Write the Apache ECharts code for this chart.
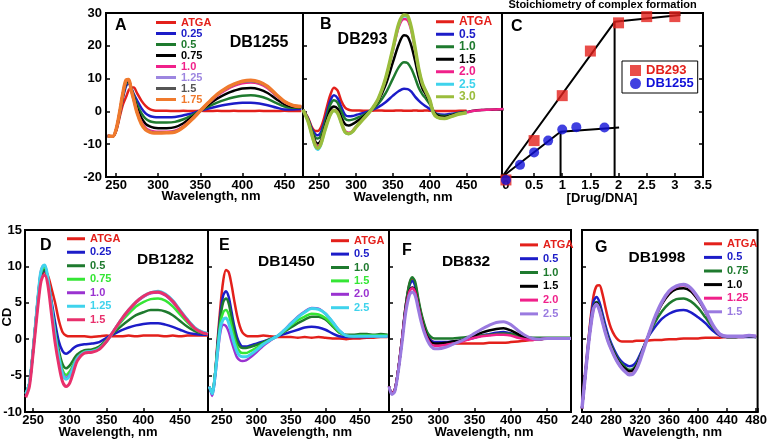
<!DOCTYPE html>
<html><head><meta charset="utf-8">
<script src="https://cdn.jsdelivr.net/npm/echarts/dist/echarts.min.js"></script>
<style>html,body{margin:0;padding:0;background:#fff}#c{width:770px;height:442px}</style>
</head><body><div id="c"></div>
<script>
const FONT = '"Liberation Sans", Arial, Helvetica, sans-serif';

// ---------- Panel A : DB1255 ----------
const wlA = [240,246,250,254,258,262,265,268,271,275,280,285,290,295,300,310,320,330,340,350,360,370,380,390,400,410,420,430,440,450,460,470];
const aATGA = [-7.5,-7.6,-6.0,-2.0,2.0,4.5,6.5,7.3,7.3,5.5,3.3,1.7,0.7,0.3,0.2,0.2,0.1,0.2,0.1,0.2,0.1,0.2,0.1,0.2,0.1,0.1,0.2,0.1,0.1,0.2,0.1,0.1];
const a025 = [-7.5,-7.6,-5.8,-1.2,4.0,7.8,8.5,7.2,5.3,3.3,1.0,-0.6,-1.4,-1.7,-1.8,-1.8,-1.7,-1.2,-0.6,0.2,0.9,1.5,2.0,2.4,2.6,2.6,2.4,1.9,1.2,0.6,0.6,0.7];
const a05 = [-7.5,-7.6,-5.7,-1.0,4.5,8.5,9.0,7.0,4.8,2.0,-0.5,-2.2,-3.0,-3.3,-3.4,-3.4,-3.2,-2.4,-1.2,0.2,1.5,2.7,3.6,4.3,4.8,4.9,4.6,3.8,2.6,1.5,1.1,1.1];
const a075 = [-7.5,-7.6,-5.6,-0.8,5.0,9.0,9.3,6.8,4.2,0.8,-2.0,-3.8,-4.6,-5.0,-5.1,-5.1,-4.8,-3.6,-1.8,0.2,2.1,3.9,5.3,6.3,7.0,7.1,6.7,5.6,3.8,2.2,1.4,1.3];
const a10 = [-7.5,-7.6,-5.5,-0.6,5.3,9.3,9.5,6.6,3.8,0.0,-3.2,-5.0,-5.8,-6.1,-6.2,-6.2,-5.9,-4.5,-2.3,0.2,2.6,4.8,6.5,7.8,8.6,8.8,8.4,7.1,4.8,2.8,1.7,1.4];
const a125 = [-7.5,-7.6,-5.5,-0.5,5.4,9.4,9.6,6.5,3.6,-0.3,-3.6,-5.4,-6.1,-6.4,-6.5,-6.4,-6.2,-4.7,-2.4,0.2,2.7,5.0,6.8,8.1,9.0,9.2,8.7,7.4,5.0,2.9,1.8,1.4];
const a15 = [-7.5,-7.6,-5.5,-0.5,5.4,9.5,9.6,6.5,3.5,-0.4,-3.7,-5.5,-6.2,-6.5,-6.5,-6.4,-6.2,-4.7,-2.4,0.2,2.7,5.1,6.9,8.2,9.1,9.3,8.8,7.5,5.1,3.0,1.8,1.5];
const a175 = [-7.5,-7.6,-5.5,-0.5,5.5,9.6,9.7,6.5,3.5,-0.5,-3.8,-5.6,-6.3,-6.6,-6.6,-6.5,-6.3,-4.8,-2.5,0.2,2.8,5.2,7.0,8.3,9.2,9.5,9.0,7.6,5.2,3.0,1.8,1.5];
const labelsA = ['ATGA','0.25','0.5','0.75','1.0','1.25','1.5','1.75'];

// ---------- Panel B : DB293 ----------
const wlB = [228,235,240,245,248,252,256,260,265,270,275,280,285,290,295,300,310,320,330,340,350,358,365,370,375,380,385,390,395,400,405,410,420,430,440,450,460,470,480,490,500];
const bATGA = [0.5,-2,-4.8,-6,-6,-5,-2.5,1,5,7.2,6.3,3.2,1.2,0.5,0.3,0.3,0.2,0.2,0.3,0.2,0.2,0.3,0.2,0.2,0.2,0.3,0.2,0.2,0.3,0.2,0.2,0.1,0.1,0.1,0.2,0.2,null,null,null,null,null];
const b05 = [0.5,-2.3,-5.3,-7,-7.3,-6.5,-4,-0.8,3.2,4.9,4,1.3,-1,-1.5,-1.4,-1.1,-0.5,0.3,1.3,2.8,4.8,6.2,6.9,6.8,6.0,4.5,3.3,2.3,1.5,0.7,-0.2,-0.8,-1.0,-0.7,-0.4,-0.2,null,null,null,null,null];
const b10 = [0.5,-2.5,-5.8,-8,-8.3,-7.5,-5,-1.8,2,3.4,2.6,0,-2.2,-2.7,-2.5,-2.1,-1.1,0.3,2.3,5.5,10,13.5,15,14.7,13,10.3,7.2,5.2,3.8,2.2,0,-1,-1.4,-1,-0.5,-0.2,null,null,null,null,null];
const b15 = [0.5,-2.8,-6.5,-9.3,-9.8,-9,-6.3,-3,0.5,1.5,0.8,-1.8,-3.9,-4.3,-3.9,-3.2,-1.6,0.3,3.2,8,15,20.5,23.2,22.8,20,15.5,10.5,7,5,3,0,-1.2,-1.7,-1.2,-0.6,-0.2,0.2,0.4,0.5,0.6,0.6];
const b20 = [0.5,-3,-6.8,-10,-10.6,-9.7,-6.8,-3.8,-0.8,0.4,-0.3,-3.3,-6,-6.5,-6,-4.6,-2.2,0.3,3.7,9.8,18.6,25.8,28.2,27.8,24.6,18.9,12.6,8.3,5.8,3.4,-0.4,-1.7,-2.1,-1.4,-0.7,-0.3,0.2,0.4,0.5,0.6,0.7];
const b25 = [0.5,-3.2,-7.3,-11,-11.7,-10.5,-7.3,-4.2,-1.1,0.2,-0.6,-3.6,-6.4,-6.9,-6.3,-4.8,-2.3,0.3,3.8,10,19,26.4,29,28.8,25.3,19.4,12.9,8.5,6,3.5,-0.5,-1.8,-2.2,-1.5,-0.8,-0.4,null,null,null,null,null];
const b30 = [0.5,-3.1,-7.1,-10.6,-11.2,-10.1,-7.1,-4.1,-1.0,0.3,-0.5,-3.5,-6.3,-6.8,-6.2,-4.8,-2.3,0.3,3.8,10,19.2,26.8,29.4,29.1,25.5,19.5,13,8.5,6,3.5,-0.5,-1.8,-2.2,-1.5,-0.8,-0.4,null,null,null,null,null];
const labelsB = ['ATGA','0.5','1.0','1.5','2.0','2.5','3.0'];

// ---------- Panel C : stoichiometry ----------
const ratio293 = [0,0.5,1,1.5,2,2.5,3];
const signal293 = [-0.9,11.1,24.8,38.4,47.0,48.9,48.9];
const ratio1255 = [0,0.25,0.5,0.75,1,1.25,1.75];
const signal1255 = [-0.9,3.7,7.5,11.1,14.5,15.2,15.1];
const fit293X = [-0.07,1.93,3.1];
const fit293Y = [0,47.3,49.4];
const drop293X = [1.93,1.93];
const drop293Y = [0,47.3];
const fit1255X = [-0.07,0.97,2.01];
const fit1255Y = [0,13.8,15.1];
const drop1255X = [0.97,0.97];
const drop1255Y = [0,13.8];

// ---------- Panel D : DB1282 ----------
const wlD = [240,245,250,255,260,263,266,270,275,280,285,290,295,300,305,310,320,330,340,350,360,370,380,390,400,410,420,430,440,450,460,470,480,488];
const dATGA = [-7.5,-6,-1.5,3.5,8,9,9.2,8.8,7,5,2.6,1.0,0.5,0.4,0.4,0.4,0.4,0.3,0.4,0.5,0.4,0.4,0.5,0.4,0.5,0.5,0.5,0.4,0.5,0.4,0.5,0.5,0.5,0.5];
const d025 = [-7.5,-6,-1.5,4,8.5,9.3,9.4,8.2,5.3,2.3,-0.3,-1.6,-2.0,-1.7,-1.2,-0.9,-0.7,-0.6,-0.4,0.2,0.7,1.2,1.6,1.9,2.1,2.2,2.2,2.0,1.7,1.3,0.9,0.7,0.6,0.6];
const d05 = [-7.5,-6,-1.5,4,8.6,9.4,9.5,8.1,4.8,1.3,-1.5,-3.4,-4.0,-3.6,-2.8,-2.1,-1.5,-1.4,-1.0,-0.1,0.9,1.8,2.6,3.3,3.7,4.0,4.0,3.8,3.3,2.5,1.7,1.1,0.8,0.7];
const d075 = [-7.5,-6,-1.5,4,8.8,9.7,9.8,8.3,4.6,0.8,-2.1,-4.2,-4.9,-4.4,-3.4,-2.5,-1.7,-1.6,-1.2,-0.2,1.1,2.4,3.5,4.5,5.1,5.5,5.6,5.3,4.5,3.4,2.3,1.4,0.9,0.7];
const d10 = [-7.8,-6.2,-1.6,4,9,10,10.1,8.4,4.5,0.6,-2.4,-4.6,-5.3,-4.8,-3.7,-2.6,-1.8,-1.7,-1.3,-0.3,1.2,2.6,3.9,5.0,5.8,6.3,6.4,6.0,5.1,3.9,2.6,1.5,1.0,0.8];
const d125 = [-7.5,-6,-1.5,4,9,10,10.2,8.5,4.5,0.5,-2.5,-4.8,-5.5,-5.0,-3.8,-2.7,-1.8,-1.7,-1.3,-0.3,1.2,2.7,4.0,5.1,5.9,6.4,6.6,6.2,5.3,4.0,2.7,1.6,1.0,0.8];
const d15 = [-8,-6.5,-2,3,7.5,8.6,8.8,7.5,3.5,-0.5,-3.5,-5.8,-6.5,-6,-4.5,-3,-1.9,-1.8,-1.4,-0.3,1.2,2.7,4.0,5.1,5.9,6.4,6.5,6.1,5.2,3.9,2.6,1.5,0.9,0.7];
const labelsD = ['ATGA','0.25','0.5','0.75','1.0','1.25','1.5'];

// ---------- Panel E : DB1450 ----------
const wlE = [232,236,240,244,248,252,256,260,264,268,272,276,280,285,290,300,310,320,330,340,350,360,370,380,390,400,410,420,430,440,450,460,470,480,490];
const eATGA = [-6.5,-7.5,-5,0,4.5,8,9.5,9.2,7.5,5.3,3.3,1.8,0.9,0.5,0.4,0.4,0.5,0.4,0.3,0.3,0.3,0.2,0.3,0.2,0.3,0.2,0.1,0.1,0,0.1,0.1,0.2,0.2,0.3,0.3];
const e05 = [-6.5,-7.5,-5,-0.5,3.5,6,6.6,5.8,3.8,1.8,0.3,-0.6,-1.0,-1.0,-0.9,-0.6,-0.3,0,0.4,0.7,1.0,1.3,1.6,1.7,1.6,1.3,0.8,0.4,0.3,0.3,0.3,0.3,0.4,0.4,0.4];
const e10 = [-6.5,-7.5,-5,-0.8,3,5.1,5.6,4.9,3,1.1,-0.3,-1.0,-1.2,-1.2,-1.1,-0.8,-0.4,0,0.4,1.0,1.6,2.2,2.7,3.1,3.1,2.7,1.8,0.9,0.6,0.6,0.7,0.7,0.6,0.7,0.6];
const e15 = [-6.5,-7.5,-5,-1.2,2.2,3.7,4.0,3.4,1.8,0.2,-1.0,-1.7,-1.9,-1.9,-1.7,-1.2,-0.6,-0.1,0.4,1.1,1.9,2.6,3.1,3.5,3.4,2.9,2.0,1.0,0.5,0.4,0.5,0.5,0.5,0.5,0.5];
const e20 = [-6.5,-7.8,-5.5,-2,1.0,2.0,1.8,1.0,-0.3,-1.5,-2.5,-2.9,-3.0,-2.9,-2.6,-1.8,-0.9,-0.2,0.4,1.2,2.2,3.1,3.8,4.3,4.2,3.5,2.4,1.2,0.5,0.4,0.4,0.4,0.4,0.4,0.4];
const e25 = [-6.5,-7.5,-5.2,-1.6,1.6,2.7,2.9,2.2,0.8,-0.6,-1.7,-2.3,-2.4,-2.4,-2.2,-1.5,-0.7,-0.1,0.4,1.2,2.1,3.0,3.7,4.2,4.1,3.5,2.4,1.2,0.5,0.4,0.4,0.4,0.4,0.4,0.4];
const labelsE = ['ATGA','0.5','1.0','1.5','2.0','2.5'];

// ---------- Panel F : DB832 ----------
const wlF = [232,236,240,245,250,255,260,264,268,272,276,280,285,290,295,300,310,320,330,340,350,360,370,380,390,400,410,420,430,440,450,460,470,483];
const fATGA = [-6.5,-7.4,-7,-4,0,4.5,7.5,8.3,7.6,5.5,3.6,2.1,0.7,-0.1,-0.5,-0.6,-0.6,-0.6,-0.6,-0.6,-0.6,-0.6,-0.5,-0.5,-0.5,-0.4,-0.3,-0.2,-0.1,0,0.1,0.1,0.1,0.1];
const f05 = [-6.5,-7.4,-7,-4,0,4.5,7.3,8.0,7.3,5.3,3.4,1.9,0.5,-0.2,-0.4,-0.4,-0.4,-0.3,-0.2,0,0.2,0.5,0.7,0.9,1.0,0.8,0.4,0.1,0,0,0.1,0.1,0.1,0.1];
const f10 = [-6.5,-7.4,-7,-4,0,4.6,7.6,8.5,7.9,5.8,3.8,2.3,0.9,0.3,0.1,0.1,0.1,0.1,0.2,0.3,0.4,0.5,0.6,0.7,0.8,0.7,0.5,0.3,0.2,0.2,0.2,0.2,0.2,0.2];
const f15 = [-6.5,-7.4,-7,-4,0,4.2,6.6,7.1,6.6,4.8,3.0,1.6,0.3,-0.4,-0.6,-0.6,-0.5,-0.3,-0.2,0.1,0.5,0.9,1.2,1.4,1.5,1.2,0.7,0.2,0,0,0.1,0.1,0.1,0.1];
const f20 = [-6.5,-7.4,-7,-4,0,4.1,6.5,7.0,6.5,4.7,2.9,1.4,0.1,-0.7,-0.9,-0.9,-0.8,-0.6,-0.4,-0.1,0.2,0.4,0.5,0.6,0.6,0.5,0.2,0,-0.1,0,0.1,0.1,0.1,0.1];
const f25 = [-6.5,-7.6,-7.2,-4.3,-0.5,3.6,6,6.5,6.0,4.3,2.5,1.1,-0.2,-1.0,-1.3,-1.3,-1.1,-0.7,-0.3,0.2,0.8,1.4,1.9,2.3,2.4,2.0,1.2,0.5,0.1,0,0.1,0.1,0.1,0.1];
const labelsF = ['ATGA','0.5','1.0','1.5','2.0','2.5'];

// ---------- Panel G : DB1998 ----------
const wlG = [240,244,248,252,256,260,264,268,272,276,280,285,290,295,300,305,310,315,320,325,330,340,350,360,370,380,390,400,410,420,430,440,450,460,470,480];
const gATGA = [-9.5,-5,-1,3,6,7.3,7.4,6.3,4.5,2.8,1.5,0.5,-0.1,-0.3,-0.3,-0.3,-0.3,-0.2,-0.2,-0.2,-0.2,-0.1,-0.1,0,0,0.1,0.1,0.1,0.2,0.2,0.2,0.3,0.3,0.3,0.4,0.4];
const g05 = [-9.5,-5.3,-1.2,2.5,5.2,5.8,5.1,3.6,2.0,0.6,-0.5,-1.6,-2.5,-3.1,-3.5,-3.7,-3.6,-3.1,-2.1,-1.0,0.1,1.6,2.8,3.5,3.9,4.0,3.7,3.0,2.2,1.2,0.5,0.3,0.3,0.3,0.3,0.3];
const g075 = [-9.5,-5.5,-1.5,2,4.5,5.1,4.5,3,1.5,0.2,-0.8,-1.9,-2.8,-3.4,-3.9,-4.2,-4.1,-3.5,-2.4,-1.1,0.1,2.2,3.8,4.9,5.5,5.6,5.2,4.3,3.0,1.6,0.6,0.3,0.3,0.4,0.4,0.3];
const g10 = [-9.5,-5.5,-1.5,1.9,4.4,5.0,4.3,2.8,1.3,0,-1.0,-2.1,-3.0,-3.7,-4.1,-4.4,-4.3,-3.7,-2.6,-1.2,0.1,2.7,4.8,6.2,6.9,7.0,6.6,5.4,3.8,1.9,0.6,0.3,0.3,0.4,0.4,0.3];
const g125 = [-9.5,-5.5,-1.5,1.8,4.2,4.8,4.0,2.5,1.0,-0.3,-1.3,-2.4,-3.3,-4.0,-4.5,-4.8,-4.7,-4.0,-2.8,-1.3,0.1,2.8,5.0,6.5,7.2,7.4,6.9,5.6,3.9,1.9,0.6,0.4,0.4,0.4,0.5,0.4];
const g15 = [-9.5,-5.5,-1.5,1.8,4.2,4.8,4.0,2.5,1.0,-0.3,-1.3,-2.4,-3.3,-4.0,-4.5,-4.9,-4.8,-4.1,-2.9,-1.4,0.1,2.9,5.1,6.6,7.3,7.5,7.0,5.7,4.0,2.0,0.7,0.4,0.4,0.4,0.5,0.4];
const labelsG = ['ATGA','0.5','0.75','1.0','1.25','1.5'];

// ---------- colours ----------
const RED='#e3201b', BLUE='#1c1cc8', DGREEN='#1e7a2e', BLACK='#000000', PINK='#f0208a',
      LAV='#9d86e0', GRAY='#555555', ORANGE='#f07a2d', CYAN='#3fd3ec', OLIVE='#9bbd3c',
      LGREEN='#35e635', PURPLE='#9a32d0', CRIMSON='#e8306c', LAV2='#9a7ae0';

const chart = echarts.init(document.getElementById('c'), null, {renderer:'canvas'});

const grids = [
  {left:106, top:13, width:197, height:164},
  {left:303, top:13, width:199, height:164},
  {left:502, top:13, width:201, height:164},
  {left:25, top:230, width:183, height:182},
  {left:208, top:230, width:181, height:182},
  {left:389, top:230, width:182, height:182},
  {left:582, top:230, width:179, height:182}
].map(g => Object.assign({show:true, borderColor:'#000', borderWidth:2, backgroundColor:'#fff', containLabel:false}, g));

function onStep(v, step){ const r = v/step; return Math.abs(r - Math.round(r)) < 1e-6; }
function xAx(gi, min, max, step, split, interval){
  const ax = {type:'value', gridIndex:gi, min, max, splitNumber:split,
    splitLine:{show:false},
    axisLine:{show:true, onZero:false, lineStyle:{color:'#000', width:2}},
    axisTick:{show:true, inside:true, length:4, lineStyle:{color:'#000', width:1.5}},
    axisLabel:{show:true, margin:2, color:'#000', fontFamily:FONT, fontWeight:'bold', fontSize:13,
      formatter: v => onStep(v, step) ? String(+v.toFixed(2)) : ''}};
  if (interval) ax.interval = interval;
  return ax;
}
function yAx(gi, min, max, interval, showLabel, margin){
  return {type:'value', gridIndex:gi, min, max, interval,
    splitLine:{show:false},
    axisLine:{show:true, onZero:false, lineStyle:{color:'#000', width:2}},
    axisTick:{show:true, inside:true, length:4, lineStyle:{color:'#000', width:1.5}},
    axisLabel:{show:showLabel, margin:margin||4, color:'#000', fontFamily:FONT, fontWeight:'bold', fontSize:13}};
}

const xAxes = [
  xAx(0, 238, 472, 50, 5),
  xAx(1, 228, 498, 50, 5),
  xAx(2, -0.07, 3.5, 0.5, 7),
  xAx(3, 239, 488, 50, 5),
  xAx(4, 230, 492, 50, 5),
  xAx(5, 232, 483, 50, 5),
  xAx(6, 240, 482, 40, 6, 40)
];
const yAxes = [
  yAx(0, -20, 30, 10, true, 4),
  yAx(1, -20, 30, 10, false),
  Object.assign(yAx(2, 0, 50, 10, false), {position:'right'}),
  yAx(3, -10, 15, 5, true, 3),
  yAx(4, -10, 15, 5, false),
  yAx(5, -10, 15, 5, false),
  yAx(6, -10, 15, 5, false)
];

function pairs(xs, ys){ const out=[]; xs.forEach((x,i)=>{ if(ys[i]!=null) out.push([x, ys[i]]); }); return out; }
function line(gi, name, xs, ys, color, width){
  return {type:'line', name, xAxisIndex:gi, yAxisIndex:gi, data:pairs(xs, ys),
    showSymbol:false, symbol:'none', smooth:0.3, animation:false, silent:true,
    lineStyle:{color, width}, itemStyle:{color}};
}
const series = [];
const legends = [];
function panel(gi, prefix, xs, list, labels, colors, widths, lg){
  list.forEach((ys,i)=> series.push(line(gi, prefix+'_'+labels[i], xs, ys, colors[i], widths[i])));
  legends.push({left:lg.left, top:lg.top, orient:'vertical', itemGap:0, itemWidth:lg.iw, itemHeight:3,
    icon:'rect', selectedMode:false, padding:0,
    formatter: n => n.slice(prefix.length+1),
    textStyle:{fontFamily:FONT, fontWeight:'bold', fontSize:lg.fs, lineHeight:lg.lh},
    data: labels.map((l,i)=>({name:prefix+'_'+l, textStyle:{color:colors[i]}}))});
}

panel(0,'A', wlA, [aATGA,a025,a05,a075,a10,a125,a15,a175], labelsA,
  [RED,BLUE,DGREEN,BLACK,PINK,LAV,GRAY,ORANGE], [2.5,2.5,2.5,2.5,2.5,2.5,2.5,3.5],
  {left:156, top:17, iw:20, fs:11, lh:11});
panel(1,'B', wlB, [bATGA,b05,b10,b15,b20,b25,b30], labelsB,
  [RED,BLUE,DGREEN,BLACK,PINK,CYAN,OLIVE], [2.5,2.5,2.5,2.5,2.5,2.5,3.5],
  {left:436, top:15.5, iw:18, fs:12, lh:12.5});
panel(3,'D', wlD, [dATGA,d025,d05,d075,d10,d125,d15], labelsD,
  [RED,BLUE,DGREEN,LGREEN,PURPLE,CYAN,CRIMSON], [2.5,2.5,2.5,2.5,2.5,3,3],
  {left:67, top:232, iw:18, fs:11, lh:13.5});
panel(4,'E', wlE, [eATGA,e05,e10,e15,e20,e25], labelsE,
  [RED,BLUE,DGREEN,LGREEN,PURPLE,CYAN], [2.5,2.5,2.5,2.5,2.5,3],
  {left:331, top:234, iw:18, fs:11, lh:13.4});
panel(5,'F', wlF, [fATGA,f05,f10,f15,f20,f25], labelsF,
  [RED,BLUE,DGREEN,BLACK,PINK,LAV2], [2.5,2.5,2.5,2.5,2.5,3],
  {left:520, top:238, iw:18, fs:11, lh:13.8});
panel(6,'G', wlG, [gATGA,g05,g075,g10,g125,g15], labelsG,
  [RED,BLUE,DGREEN,BLACK,PINK,LAV2], [2.5,2.5,2.5,2.5,2.5,3.5],
  {left:704, top:237, iw:18, fs:11, lh:13.6});

// Panel C
const fitStyle = {type:'line', xAxisIndex:2, yAxisIndex:2, showSymbol:false, symbol:'none', animation:false, silent:true, z:2,
  lineStyle:{color:'#000', width:2}, itemStyle:{color:'#000'}};
series.push(Object.assign({}, fitStyle, {name:'fit293', data:pairs(fit293X, fit293Y)}));
series.push(Object.assign({}, fitStyle, {name:'drop293', data:pairs(drop293X, drop293Y)}));
series.push(Object.assign({}, fitStyle, {name:'fit1255', data:pairs(fit1255X, fit1255Y)}));
series.push(Object.assign({}, fitStyle, {name:'drop1255', data:pairs(drop1255X, drop1255Y)}));
series.push({type:'scatter', name:'DB293', xAxisIndex:2, yAxisIndex:2, symbol:'rect', symbolSize:11, clip:false, z:3,
  itemStyle:{color:RED}, data:pairs(ratio293, signal293), animation:false});
series.push({type:'scatter', name:'DB1255', xAxisIndex:2, yAxisIndex:2, symbol:'circle', symbolSize:10, clip:false, z:3,
  itemStyle:{color:'#1010d8'}, data:pairs(ratio1255, signal1255), animation:false});
legends.push({left:622, top:61, orient:'vertical', padding:[3,4,3,8], borderColor:'#000', borderWidth:1,
  itemGap:0, itemWidth:11, itemHeight:11, selectedMode:false,
  textStyle:{fontFamily:FONT, fontWeight:'bold', fontSize:13, lineHeight:13},
  data:[{name:'DB293', icon:'rect', textStyle:{color:RED}}, {name:'DB1255', icon:'circle', textStyle:{color:'#1010d8'}}]});

function txt(text, x, y, fs, align, rot){
  const el = {type:'text', x, y, z:100, silent:true,
    style:{text, fill:'#000', font:'bold '+fs+'px '+FONT, fontWeight:'bold', fontSize:fs, fontFamily:FONT,
      textAlign:align||'center', textVerticalAlign:'middle', align:align||'center', verticalAlign:'middle'}};
  if (rot) el.rotation = rot;
  return el;
}
const graphics = [
  txt('A',115,26,16,'left'), txt('DB1255',259,43,16),
  txt('B',320,25,16,'left'), txt('DB293',362.5,40,16),
  txt('C',511,27,16,'left'), txt('Stoichiometry of complex formation',602.5,5,11),
  txt('D',40,246,16,'left'), txt('DB1282',165.5,260,15.5),
  txt('E',219,246,16,'left'), txt('DB1450',286.5,262,15.5),
  txt('F',402,250.5,16,'left'), txt('DB832',466,262,15.5),
  txt('G',595,248,16,'left'), txt('DB1998',657,258,15.5),
  txt('Wavelength, nm',211,196,13), txt('Wavelength, nm',403,197,13), txt('[Drug/DNA]',602,198.5,13),
  txt('Wavelength, nm',108,432,13), txt('Wavelength, nm',302.5,432,13), txt('Wavelength, nm',484,432,13), txt('Wavelength, nm',672.5,432,13),
  txt('CD',7.5,317,13,'center',Math.PI/2)
];

chart.setOption({
  animation:false,
  backgroundColor:'#fff',
  grid:grids, xAxis:xAxes, yAxis:yAxes, series, legend:legends,
  graphic:{elements:graphics}
});
</script></body></html>
